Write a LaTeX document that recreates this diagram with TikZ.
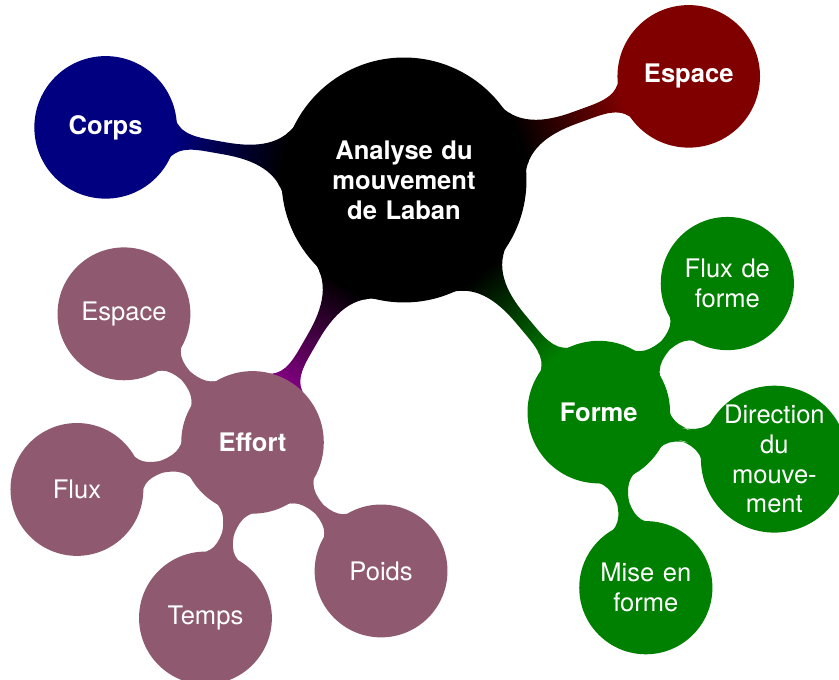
\documentclass[tikz,border=0pt]{standalone}
\usepackage{fontspec}
\setmainfont{TeX Gyre Heros}
\usepackage{tikz}
\usetikzlibrary{mindmap, trees, backgrounds}
\definecolor{mauve}{HTML}{8F5A70}

\begin{document}
\begin{tikzpicture}[mindmap, concept color=black, text=white,
  rootnode/.style={concept, minimum size=4cm, text width=2.5cm, align=center, font=\large\bfseries},
  branchnode/.style={concept, minimum size=2.31cm, text width=2cm, align=center, font=\large\bfseries},
  leafnode/.style={concept, minimum size=2.15cm, text width=1.9cm, align=center, font=\large},
  level 1/.append style={level distance=5cm},
  level 2/.append style={level distance=3cm}]
\useasboundingbox (-6.667,-8.251) rectangle (7.178,2.970);
% root with espace, forme and corps
\node[rootnode] (laban) {Analyse du mouvement de Laban}
  child[grow=20, concept color=red!50!black] {node[branchnode] (espace) {Espace}}
  child[grow=-50, concept color=green!50!black] {node[branchnode] (forme) {Forme}
    child[grow=45] {node[leafnode] (fluxforme) {Flux de forme}}
    child[grow=-15] {node[leafnode, inner sep=-0.08cm] (direction) {Direction\\du\\mouve-\\ment}}
    child[grow=-75] {node[leafnode] (miseforme) {Mise en forme}}
  }
  child[grow=170, concept color=blue!50!black] {node[branchnode] (corps) {Corps}};
% effort and its four qualities
\begin{scope}[concept color=mauve]
\node[branchnode] (effort) at (240:5cm) {Effort};
\node[leafnode] (espaceeff) at ([shift={(135:3cm)}]effort) {Espace};
\node[leafnode] (flux) at ([shift={(195:3cm)}]effort) {Flux};
\node[leafnode] (temps) at ([shift={(255:3cm)}]effort) {Temps};
\node[leafnode] (poids) at ([shift={(315:3cm)}]effort) {Poids};
\end{scope}
\begin{pgfonlayer}{background}
\path (laban) to[circle connection bar switch color=from (black) to (violet)] (effort);
\foreach \q in {espaceeff, flux, temps, poids}
  \path (effort) to[circle connection bar switch color=from (mauve) to (mauve)] (\q);
\end{pgfonlayer}
\end{tikzpicture}
\end{document}
